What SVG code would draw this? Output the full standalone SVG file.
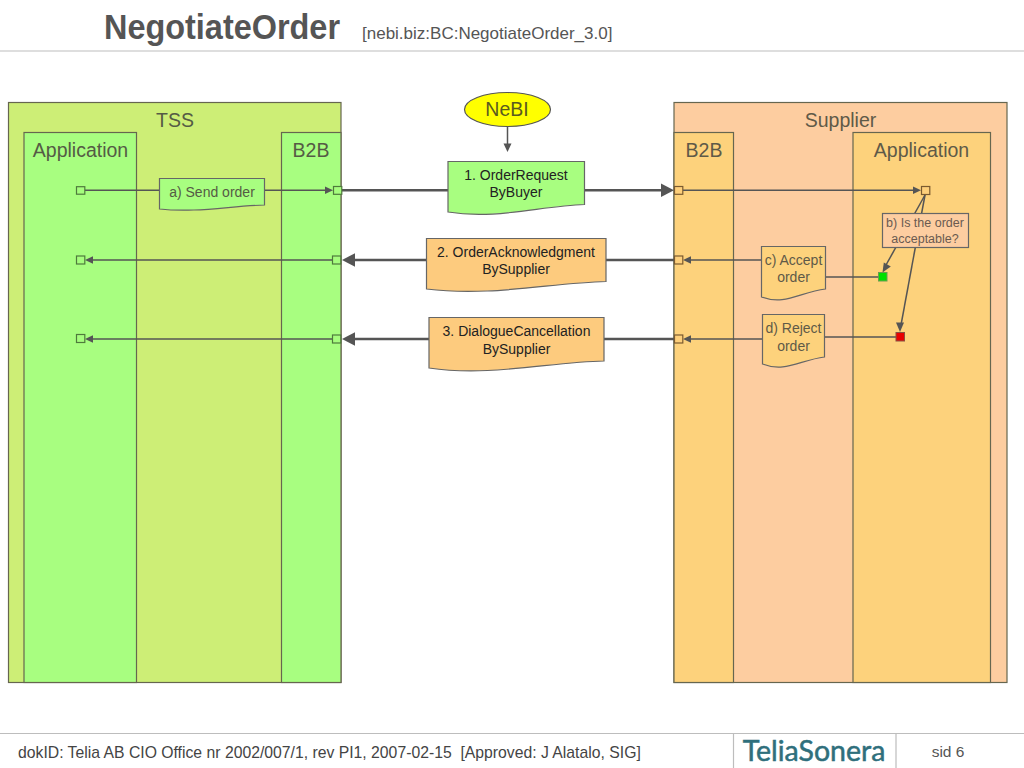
<svg xmlns="http://www.w3.org/2000/svg" width="1024" height="768" viewBox="0 0 1024 768">
<style>
text{font-family:"Liberation Sans",Arial,sans-serif;text-anchor:middle}
.box{stroke:#66664f;stroke-width:1.200}
.lg{font-size:19.500px;fill:#555b45}
.lgo{font-size:19.500px;fill:#5f5a48}
.m{font-size:14px;fill:#222}
.s{font-size:14px;fill:#555b45}
.so{font-size:14px;fill:#5f5a48}
.doc{stroke:#666;stroke-width:1.200}
.c1{stroke:#555;stroke-width:1.500;fill:none}
.c2{stroke:#555;stroke-width:2.500;fill:none}
.pg{fill:#a6fd7e;stroke:#4f7a3c;stroke-width:1.200}
.po{fill:#fdcf7b;stroke:#7a5a30;stroke-width:1.200}
.ah{fill:#555;stroke:none}
.rule{stroke:#bdbdbd;stroke-width:1.200}
</style>
<rect width="1024" height="768" fill="#fff"/>
<g id="header">
<line class="rule" x1="0" y1="51" x2="1024" y2="51"/>
<text x="104" y="39" textLength="236" lengthAdjust="spacingAndGlyphs" style="text-anchor:start;font-size:35px;font-weight:bold;fill:#555">NegotiateOrder</text>
<text x="362" y="39" style="text-anchor:start;font-size:17px;fill:#555">[nebi.biz:BC:NegotiateOrder_3.0]</text>
</g>
<g id="tss"><rect class="box" x="8.500" y="102.500" width="332.500" height="580" fill="#cdee76"/><text class="lg" x="175" y="127">TSS</text></g>
<g id="tss-application"><rect class="box" x="24" y="132.500" width="112.500" height="550" fill="#a8fe80"/><text class="lg" x="80.500" y="157">Application</text></g>
<g id="tss-b2b"><rect class="box" x="281.500" y="132.500" width="59.500" height="550" fill="#a8fe80"/><text class="lg" x="311" y="157">B2B</text></g>
<g id="supplier"><rect class="box" x="674" y="102.500" width="333" height="580" fill="#fdcda0"/><text class="lgo" x="840.500" y="127">Supplier</text></g>
<g id="supplier-b2b"><rect class="box" x="674" y="132.500" width="59.500" height="550" fill="#fdd27c"/><text class="lgo" x="704" y="157">B2B</text></g>
<g id="supplier-application"><rect class="box" x="853" y="132.500" width="137.500" height="550" fill="#fdd27c"/><text class="lgo" x="921.500" y="157">Application</text></g>
<g id="connectors">
<line class="c1" x1="85" y1="190.300" x2="160" y2="190.300"/>
<line class="c1" x1="264" y1="190.300" x2="326" y2="190.300"/>
<path class="ah" d="M333 190.300l-8-3.800v7.600z"/>
<line class="c1" x1="92" y1="260" x2="333" y2="260"/>
<path class="ah" d="M85 260l8-3.800v7.600z"/>
<line class="c1" x1="92" y1="339" x2="333" y2="339"/>
<path class="ah" d="M85 339l8-3.800v7.600z"/>
<line class="c2" x1="342" y1="190.300" x2="448" y2="190.300"/>
<line class="c2" x1="584" y1="190.300" x2="662" y2="190.300"/>
<path class="ah" d="M674 190.300l-13-6.800v13.600z"/>
<line class="c2" x1="354" y1="260" x2="427" y2="260"/>
<line class="c2" x1="606" y1="260" x2="674" y2="260"/>
<path class="ah" d="M342 260l13-6.800v13.600z"/>
<line class="c2" x1="354" y1="339" x2="430" y2="339"/>
<line class="c2" x1="604" y1="339" x2="674" y2="339"/>
<path class="ah" d="M342 339l13-6.800v13.600z"/>
<line class="c1" x1="507.500" y1="126" x2="507.500" y2="145"/>
<path class="ah" d="M507.500 152l-4-8.500h8z"/>
<line class="c1" x1="683" y1="190.300" x2="915" y2="190.300"/>
<path class="ah" d="M921 190.300l-8-3.800v7.600z"/>
<line class="c1" x1="689" y1="260" x2="762" y2="260"/>
<path class="ah" d="M683 260l8-3.800v7.600z"/>
<line class="c1" x1="689" y1="339" x2="763" y2="339"/>
<path class="ah" d="M683 339l8-3.800v7.600z"/>
<line class="c1" x1="825" y1="277" x2="879" y2="277"/>
<line class="c1" x1="825" y1="337" x2="896" y2="337"/>
<line class="c1" x1="925" y1="195" x2="886" y2="265"/>
<path class="ah" d="M882.500 272.500l1.300-10 7 4z"/>
<line class="c1" x1="925" y1="195" x2="901" y2="325"/>
<path class="ah" d="M900 332l-4-9.500h8z"/>
</g>
<g id="ports">
<rect class="pg" x="76.500" y="186.700" width="8.300" height="7.500"/>
<rect class="pg" x="76.500" y="256" width="8.300" height="8"/>
<rect class="pg" x="76.500" y="334.500" width="8.300" height="8"/>
<rect class="pg" x="333.500" y="186.500" width="8.300" height="7.800"/>
<rect class="pg" x="332.500" y="256" width="8.300" height="8"/>
<rect class="pg" x="332.500" y="335" width="8.300" height="8"/>
<rect class="po" x="674.500" y="186.500" width="8.300" height="7.800"/>
<rect class="po" x="674.500" y="256" width="8.300" height="8"/>
<rect class="po" x="674.500" y="335" width="8.300" height="8"/>
<rect class="po" x="921.500" y="186.500" width="8.300" height="8"/>
<rect x="878.500" y="272.500" width="8.500" height="8.500" fill="#00e000" stroke="#6b9a50" stroke-width="1"/>
<rect x="896" y="332.500" width="8.500" height="8.500" fill="#e80000" stroke="#8a5040" stroke-width="1"/>
</g>
<g id="nebi"><ellipse cx="507.500" cy="109.500" rx="43" ry="17" fill="#ffff00" stroke="#555" stroke-width="1.200"/><text x="507" y="115.500" style="font-size:19.500px;fill:#5a5a20">NeBI</text></g>
<g id="a-send-order"><path class="doc" fill="#a8fe80" d="M159.500 178.500H264.500V205C230 206 195 213 159.500 209Z"/><text class="s" x="212" y="197">a) Send order</text></g>
<g id="msg-1"><path class="doc" fill="#a8fe80" d="M448 161.500H584.500V204.500C540 206 495 220 448 212Z"/><text class="m" x="516" y="180">1. OrderRequest</text><text class="m" x="516" y="197">ByBuyer</text></g>
<g id="msg-2"><path class="doc" fill="#fdcb7e" d="M426.500 238.500H606V281.500C550 283 490 297 426.500 289Z"/><text class="m" x="516" y="256.500">2. OrderAcknowledgment</text><text class="m" x="516" y="274">BySupplier</text></g>
<g id="msg-3"><path class="doc" fill="#fdcb7e" d="M429 317.500H604V361C550 362 490 377 429 368Z"/><text class="m" x="516.500" y="336">3. DialogueCancellation</text><text class="m" x="516.500" y="353.500">BySupplier</text></g>
<g id="b-acceptable"><rect class="doc" fill="#fdcda0" x="882.500" y="213.500" width="86" height="34"/><text x="925" y="227" style="font-size:12.500px;fill:#6a5a50">b) Is the order</text><text x="925" y="242.500" style="font-size:12.500px;fill:#6a5a50">acceptable?</text></g>
<g id="c-accept"><path class="doc" fill="#fdd27c" d="M761.500 246.500H825.500V289C800 292 785 306 761.500 297Z"/><text class="so" x="793.500" y="265">c) Accept</text><text class="so" x="793.500" y="282">order</text></g>
<g id="d-reject"><path class="doc" fill="#fdd27c" d="M762.500 314.500H824.500V357C800 360 785 373 762.500 364Z"/><text class="so" x="793.500" y="333">d) Reject</text><text class="so" x="793.500" y="350.500">order</text></g>
<g id="footer">
<line class="rule" x1="0" y1="733.500" x2="1024" y2="733.500"/>
<line class="rule" x1="733.500" y1="733.500" x2="733.500" y2="768"/>
<line class="rule" x1="896" y1="733.500" x2="896" y2="768"/>
<text x="18" y="758" xml:space="preserve" style="text-anchor:start;font-size:15.750px;fill:#444;white-space:pre">dokID: Telia AB CIO Office nr 2002/007/1, rev PI1, 2007-02-15  [Approved: J Alatalo, SIG]</text>
<text x="814" y="761" style="font-family:Lato,'Open Sans',sans-serif;font-size:28.500px;fill:#2f6f7c;stroke:#2f6f7c;stroke-width:.5">TeliaSonera</text>
<text x="948" y="757" style="font-size:15.500px;fill:#555">sid 6</text>
</g>
</svg>
